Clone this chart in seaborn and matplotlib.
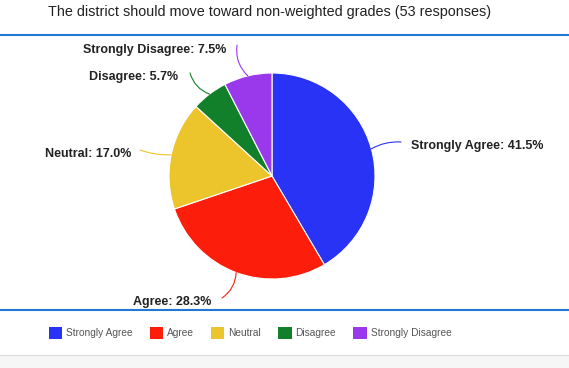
import numpy as np
import matplotlib
matplotlib.use("Agg")
import matplotlib.pyplot as plt
import seaborn as sns

title = "The district should move toward non-weighted grades (53 responses)"
answers = ["Strongly Agree", "Agree", "Neutral", "Disagree", "Strongly Disagree"]
counts = [22, 15, 9, 3, 4]
colors = ["#2933f5", "#fd1d0b", "#ecc42b", "#12802a", "#9a38ec"]

# where the label text sits (pixel coords, y from top) and its alignment
label_pos = [(411, 146, "left"), (211, 302, "right"), (131, 154, "right"),
             (178, 77, "right"), (226, 50, "right")]
line_end = [(401, 142), (222, 298), (140, 150), (190, 73), (237, 45)]
line_rad = [0.15, 0.25, 0.1, 0.25, 0.25]

sns.set_theme(style="white")
plt.rcParams["font.family"] = ["Liberation Sans", "DejaVu Sans"]

W, H = 569, 368
fig = plt.figure(figsize=(W / 100, H / 100), dpi=100)
ax = fig.add_axes([0, 0, 1, 1])

cx, cy, r = 272, H - 176, 103
pal = sns.color_palette(colors)
wedges, _ = ax.pie(counts, colors=pal, startangle=90, counterclock=False,
                   center=(cx, cy), radius=r,
                   wedgeprops=dict(edgecolor="white", linewidth=0.8))
ax.set_xlim(0, W)
ax.set_ylim(0, H)
ax.set_axis_off()

total = sum(counts)
for i, w in enumerate(wedges):
    mid = np.deg2rad((w.theta1 + w.theta2) / 2)
    px, py = cx + r * np.cos(mid), cy + r * np.sin(mid)
    ex, ey = line_end[i]
    ax.annotate("", xy=(px, py), xytext=(ex, H - ey),
                arrowprops=dict(arrowstyle="-", color=colors[i], lw=0.8,
                                shrinkA=0, shrinkB=0,
                                connectionstyle=f"arc3,rad={line_rad[i]}"))
    tx, ty, ha = label_pos[i]
    pct = 100 * counts[i] / total
    ax.text(tx, H - ty, f"{answers[i]}: {pct:.1f}%", ha=ha, va="center",
            fontsize=9, fontweight="bold", color="#222222")

# title and separators
ax.text(270, H - 12, title, ha="center", va="center", fontsize=10.4, color="#222222")
ax.plot([0, W], [H - 35, H - 35], color="#1e78d4", lw=1.5)
ax.plot([0, W], [H - 310, H - 310], color="#1e78d4", lw=1.5)
ax.add_patch(plt.Rectangle((0, 0), W, H - 355, color="#f6f6f6", zorder=0))
ax.plot([0, W], [H - 355, H - 355], color="#dddddd", lw=0.8)

# legend
handles = [plt.Rectangle((0, 0), 1, 1, facecolor=c, edgecolor="none") for c in colors]
fig.legend(handles, answers, loc="center", bbox_to_anchor=(250 / W, 1 - 333 / H),
           ncol=5, frameon=False, fontsize=7.3, labelcolor="#555555",
           handlelength=1.3, handleheight=1.3, handletextpad=0.4, columnspacing=1.7)

fig.savefig("out.png", dpi=100)
